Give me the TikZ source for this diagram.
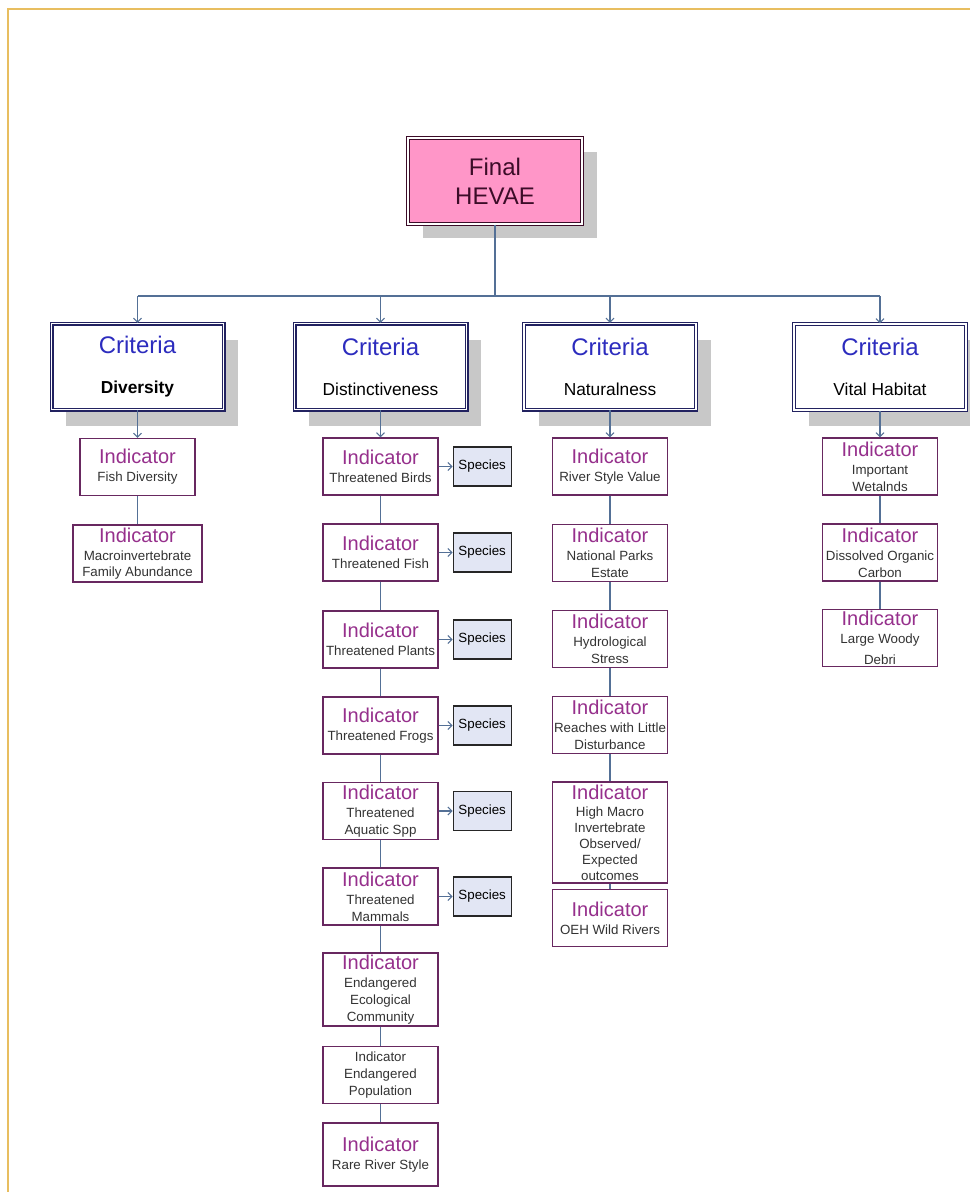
\documentclass[tikz,border=0pt]{standalone}
\usepackage{fontspec}
\setmainfont{Liberation Sans}
\usetikzlibrary{arrows.meta, positioning, shadows}

\definecolor{linkblue}{RGB}{84,112,150}
\definecolor{critblue}{RGB}{44,44,190}
\definecolor{critnavy}{RGB}{34,34,96}
\definecolor{indpurple}{RGB}{150,48,140}
\definecolor{indborder}{RGB}{104,40,96}
\definecolor{finalpink}{RGB}{255,150,200}
\definecolor{finalborder}{RGB}{60,12,40}
\definecolor{speciesfill}{RGB}{226,230,244}
\definecolor{shadowgray}{RGB}{200,200,200}
\definecolor{framegold}{RGB}{232,190,96}

\newcommand{\crittitle}{{\color{critblue}\fontsize{18}{21}\selectfont Criteria}}
\newcommand{\indtitle}{\textcolor{indpurple}{\fontsize{15}{17}\selectfont Indicator}\\[1pt]}

\begin{document}
\begin{tikzpicture}[
    x=0.75pt, y=-0.75pt,
    >={Straight Barb[length=3pt, width=6pt]},
    final/.style={rectangle, draw=finalborder, double=white, double distance=1pt, line width=1pt, fill=finalpink, minimum width=130.5pt, minimum height=64.5pt, align=center, text=finalborder, font=\fontsize{18}{21.5}\selectfont, drop shadow={shadow xshift=11pt, shadow yshift=-10.5pt, fill=shadowgray, opacity=1}},
    crit/.style={rectangle, draw=critnavy, double=white, double distance=1pt, line width=1pt, fill=white, minimum width=129pt, minimum height=64.5pt, align=center, font=\fontsize{13}{15}\selectfont, drop shadow={shadow xshift=11pt, shadow yshift=-12pt, fill=shadowgray, opacity=1}},
    ind/.style={rectangle, draw=indborder, line width=0.9pt, fill=white, minimum width=86.25pt, minimum height=42.75pt, inner sep=1pt, align=center, text=black!80, font=\fontsize{10}{12.5}\selectfont},
    species/.style={rectangle, draw=black!85, line width=0.9pt, fill=speciesfill, minimum width=43.5pt, minimum height=29.25pt, inner sep=1pt, font=\fontsize{10}{12}\selectfont},
    link/.style={draw=linkblue, line width=0.8pt},
    frame/.style={draw=framegold, line width=1.6pt},
]
\useasboundingbox (0, 0) rectangle (970, 1192);

% Page frame
\draw[frame] (8, 1192) -- (8, 9) -- (970, 9);

% Final score
\node (Final) at (495, 181) [final] {Final\\HEVAE};

% Criteria
\node (CritDiv) at (137.5, 366.5) [crit] {\crittitle\\[15pt]\textbf{Diversity}};
\node (CritDist) at (380.5, 366.5) [crit] {\crittitle\\[15pt]Distinctiveness};
\node (CritNat) at (610, 366.5) [crit] {\crittitle\\[15pt]Naturalness};
\node (CritVital) at (880, 367) [crit] {\crittitle\\[15pt]Vital Habitat};

% Diversity indicators
\node (IndFishDiv) at (137.5, 467) [ind] {\indtitle Fish Diversity};
\node (IndMacro) at (137.5, 553.5) [ind, minimum width=96.75pt] {\indtitle Macroinvertebrate\\Family Abundance};

% Distinctiveness indicators
\node (IndBirds) at (380.5, 466.5) [ind] {\indtitle Threatened Birds};
\node (IndFish) at (380.5, 552.5) [ind] {\indtitle Threatened Fish};
\node (IndPlants) at (380.5, 639.5) [ind] {\indtitle Threatened Plants};
\node (IndFrogs) at (380.5, 725.5) [ind] {\indtitle Threatened Frogs};
\node (IndAquatic) at (380.5, 811) [ind] {\indtitle Threatened\\Aquatic Spp};
\node (IndMammals) at (380.5, 896.5) [ind] {\indtitle Threatened\\Mammals};
\node (IndEEC) at (380.5, 989.5) [ind, minimum height=54.75pt] {\indtitle Endangered\\Ecological\\Community};
\node (IndEP) at (380.5, 1075) [ind] {Indicator\\Endangered\\Population};
\node (IndRRS) at (380.5, 1154.5) [ind, minimum height=47.25pt] {\indtitle Rare River Style};

% Naturalness indicators
\node (IndRSV) at (610, 466.5) [ind] {\indtitle River Style Value};
\node (IndNPE) at (610, 553) [ind] {\indtitle National Parks\\Estate};
\node (IndHS) at (610, 639) [ind] {\indtitle Hydrological\\Stress};
\node (IndRLD) at (610, 725) [ind] {\indtitle Reaches with Little\\Disturbance};
\node (IndHMI) at (610, 832.5) [ind, minimum height=75.75pt, font=\fontsize{10}{12}\selectfont] {\indtitle High Macro\\Invertebrate\\Observed/\\Expected\\outcomes};
\node (IndOEH) at (610, 918) [ind] {\indtitle OEH Wild Rivers};

% Vital habitat indicators
\node (IndIW) at (880, 466.5) [ind] {\indtitle Important\\Wetalnds};
\node (IndDOC) at (880, 552.5) [ind] {\indtitle Dissolved Organic\\Carbon};
\node (IndLWD) at (880, 638) [ind] {\indtitle Large Woody\\[3pt]Debri};

% Final to criteria
\coordinate (Bus) at (495, 296);
\draw[link] (Final) -- (Bus);
\draw[link] (Bus -| CritDiv) -- (Bus -| CritVital);
\foreach \c in {CritDiv, CritDist, CritNat, CritVital}
    \draw[link, ->] (Bus -| \c) -- (\c);

% Criteria to first indicator
\foreach \c/\i in {Div/FishDiv, Dist/Birds, Nat/RSV, Vital/IW}
    \draw[link, ->] (Crit\c) -- (Ind\i);

% Indicator chains
\foreach \a/\b in {FishDiv/Macro, Birds/Fish, Fish/Plants, Plants/Frogs, Frogs/Aquatic, Aquatic/Mammals, Mammals/EEC, EEC/EP, EP/RRS, RSV/NPE, NPE/HS, HS/RLD, RLD/HMI, HMI/OEH, IW/DOC, DOC/LWD}
    \draw[link] (Ind\a) -- (Ind\b);

% Species boxes
\foreach \s in {Birds, Fish, Plants, Frogs, Aquatic, Mammals} {
    \node (Sp\s) [species, right=10.5pt of Ind\s] {Species};
    \draw[link, ->] (Ind\s) -- (Sp\s);
}

\end{tikzpicture}
\end{document}
